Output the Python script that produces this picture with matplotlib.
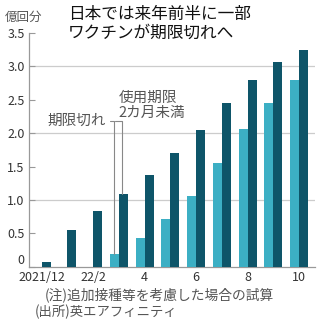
import numpy as np
import matplotlib
matplotlib.use("Agg")
import matplotlib.pyplot as plt

plt.rcParams['font.family'] = ['Noto Sans CJK JP', 'DejaVu Sans']

months = ["2021/12", "22/1", "22/2", "3", "4", "5", "6", "7", "8", "9", "10"]
tick_labels = ["2021/12", "", "22/2", "", "4", "", "6", "", "8", "", "10"]
# 期限切れ (light) and 使用期限2カ月未満 (dark), 億回分
expired = [0, 0, 0, 0.19, 0.43, 0.72, 1.06, 1.56, 2.06, 2.46, 2.80]
under_2m = [0.07, 0.55, 0.83, 1.09, 1.37, 1.70, 2.05, 2.46, 2.80, 3.06, 3.25]

light = "#3cafc4"
dark = "#0e5569"
gray = "#555555"

fig = plt.figure(figsize=(3.21, 3.21), dpi=100)
ax = fig.add_axes([0.090, 0.169, 0.891, 0.728])

x = np.arange(len(months))
w = 0.35
ax.bar(x - w / 2, expired, width=w, color=light, zorder=3)
ax.bar(x + w / 2, under_2m, width=w, color=dark, zorder=3)

ax.set_xlim(-0.5, 10.62)
ax.set_ylim(0, 3.5)
ax.set_xticks(x)
ax.set_xticklabels(tick_labels, fontsize=9, color="#333333")
ax.tick_params(axis="x", length=0, pad=3)
yt = np.arange(0, 3.51, 0.5)
ax.set_yticks(yt)
ax.set_yticklabels(["0" if v == 0 else f"{v:.1f}" for v in yt], fontsize=9, color="#333333")
ax.tick_params(axis="y", direction="in", length=4, color="#999999", pad=3)
ax.get_yticklabels()[0].set_va("bottom")
for v in [1, 2, 3]:
    ax.axhline(v, color="#cccccc", lw=0.9, zorder=1)
for s in ["top", "right"]:
    ax.spines[s].set_visible(False)
for s in ["left", "bottom"]:
    ax.spines[s].set_color("#999999")
    ax.spines[s].set_linewidth(0.9)

# annotations
ax.annotate("期限切れ", xy=(3 - w / 2, expired[3]), xytext=(2.5, 2.18),
            fontsize=10.5, color=gray, ha="right", va="center",
            arrowprops=dict(arrowstyle="-", color="#888888", lw=0.8,
                            connectionstyle="angle,angleA=0,angleB=90,rad=0",
                            shrinkA=1, shrinkB=0))
ax.text(2.98, 2.42, "使用期限\n2カ月未満", fontsize=10.5, color=gray,
        ha="left", va="center", linespacing=1.1)
ax.annotate("", xy=(3 + w / 2 - 0.05, under_2m[3]), xytext=(2.85, 2.18),
            arrowprops=dict(arrowstyle="-", color="#888888", lw=0.8,
                            connectionstyle="angle,angleA=0,angleB=90,rad=0",
                            shrinkA=0, shrinkB=0))

fig.text(0.015, 0.945, "億回分", fontsize=9, color=gray, ha="left", va="center")
fig.text(0.212, 0.925, "日本では来年前半に一部\nワクチンが期限切れへ", fontsize=12,
         color="#111111", ha="left", va="center", linespacing=1.12)
fig.text(0.140, 0.081, "(注)追加接種等を考慮した場合の試算", fontsize=9.9,
         color=gray, ha="left", va="center")
fig.text(0.109, 0.029, "(出所)英エアフィニティ", fontsize=9.6,
         color=gray, ha="left", va="center")

fig.savefig("out.png", dpi=100)
